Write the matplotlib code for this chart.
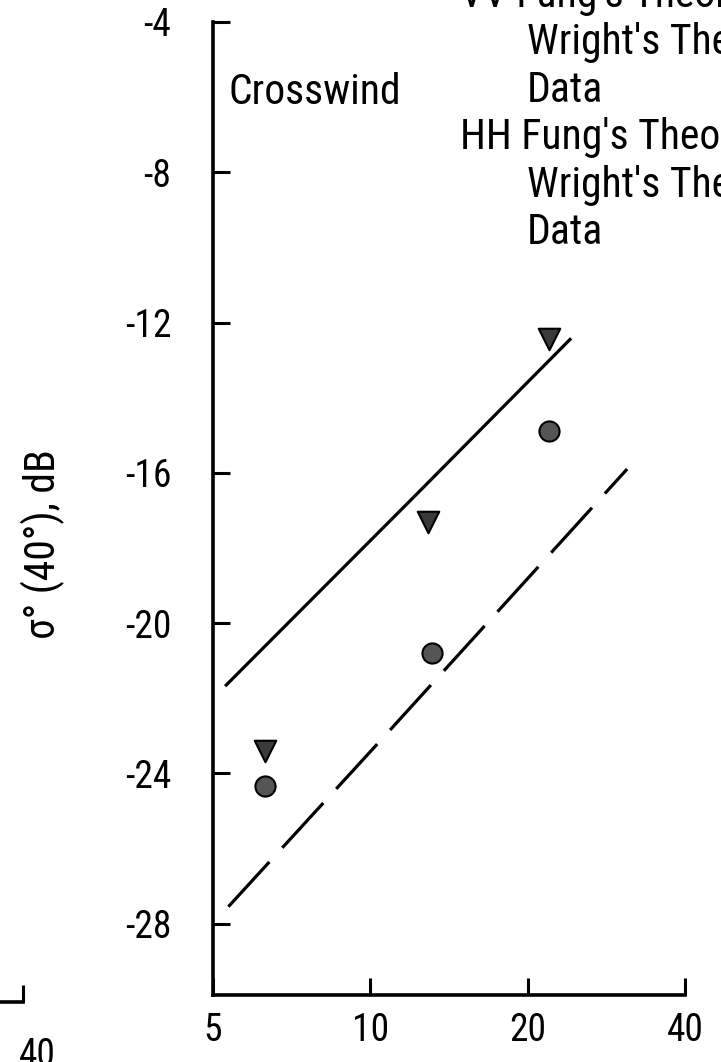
import numpy as np
import matplotlib.pyplot as plt
from matplotlib.ticker import FixedLocator, NullLocator
from matplotlib.transforms import ScaledTranslation

FONT = ['Roboto Condensed', 'DejaVu Sans']
plt.rcParams['font.family'] = FONT
plt.rcParams['font.size'] = 28

# wind speed (m/s), sigma0 at 40 deg incidence (dB)
vv_data_u = [6.3, 12.9, 22.0]
vv_data_s = [-23.4, -17.3, -12.45]
hh_data_u = [6.3, 13.1, 22.0]
hh_data_s = [-24.35, -20.8, -14.9]

theory_solid_u = [5.3, 12.1, 24.1]
theory_solid_s = [-21.65, -16.65, -12.45]
theory_dash_u = [5.35, 10.5, 31.0]
theory_dash_s = [-27.55, -23.1, -15.9]

xticks = [5, 10, 20, 40]
yticks = [-28, -24, -20, -16, -12, -8, -4]

legend_lines = ["VV Fung's Theory", "Wright's Theory", "Data",
                "HH Fung's Theory", "Wright's Theory", "Data"]

fig = plt.figure(figsize=(7.21, 10.62), dpi=100)
ax = fig.add_axes([213 / 721, 0.0631, 472 / 721, 973 / 1062])

ax.plot(theory_solid_u, theory_solid_s, color='black', lw=2.3)
ax.plot(theory_dash_u, theory_dash_s, color='black', lw=2.3,
        dashes=(19, 6))
ax.scatter(vv_data_u, vv_data_s, marker='v', s=240, color='#3a3a3a',
           edgecolors='black', linewidths=1.5, zorder=3)
ax.scatter(hh_data_u, hh_data_s, marker='o', s=210, color='#555555',
           edgecolors='black', linewidths=1.5, zorder=3)

ax.set_xscale('log')
ax.set_xlim(5, 40)
ax.set_ylim(-29.9, -4)
ax.xaxis.set_major_locator(FixedLocator(xticks))
ax.xaxis.set_minor_locator(NullLocator())
ax.set_xticklabels([str(t) for t in xticks])
ax.set_yticks(yticks)
ax.set_yticklabels([str(t) for t in yticks])
ax.tick_params(axis='both', direction='in', length=12, width=2.2, labelsize=27)
ax.tick_params(axis='x', pad=12)
ax.tick_params(axis='y', pad=30)
ax.spines['top'].set_visible(False)
ax.spines['right'].set_visible(False)
for s in ['left', 'bottom']:
    ax.spines[s].set_linewidth(2.6)

fig.text(43 / 721, 1 - 544 / 1062, "σ° (40°), dB", rotation=90,
         fontsize=30, ha='center', va='center')

fig.text(228 / 721, 1 - 88 / 1062, "Crosswind", fontsize=30,
         va='center_baseline', ha='left')

# legend block (cut off by the page edge)
leg_x = [460, 527, 527, 460, 527, 527]
leg_y = [-9, 38, 86, 133, 181, 228]
for txt, lx, ly in zip(legend_lines, leg_x, leg_y):
    fig.text(lx / 721, 1 - ly / 1062, txt, fontsize=30,
             va='center_baseline', ha='left')

# neighbouring panel's axis, partly visible at left
ax0 = fig.add_axes([-0.6, 1 - 1002 / 1062, 0.6 + 23 / 721, 0.9])
ax0.set_xscale('log')
ax0.set_xlim(5, 40)
ax0.xaxis.set_major_locator(FixedLocator([40]))
ax0.xaxis.set_minor_locator(NullLocator())
ax0.set_xticklabels(['40'])
ax0.set_yticks([])
for s in ['top', 'right', 'left']:
    ax0.spines[s].set_visible(False)
ax0.spines['bottom'].set_linewidth(2.6)
ax0.tick_params(axis='x', direction='in', length=12, width=2.2,
                labelsize=27, pad=25)
ax0.patch.set_visible(False)
shift = ScaledTranslation(14 / 100, 0, fig.dpi_scale_trans)
for lab in ax0.get_xticklabels():
    lab.set_transform(lab.get_transform() + shift)

fig.savefig('out.png', dpi=100)
